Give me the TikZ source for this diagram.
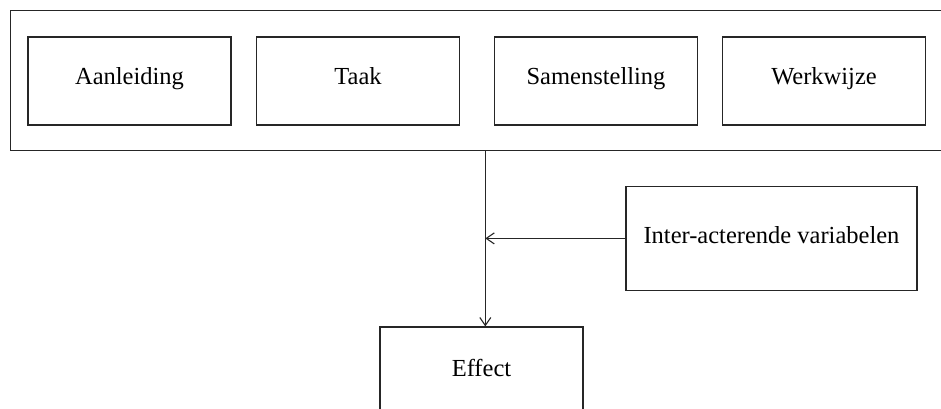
\documentclass[tikz,border=0pt]{standalone}
\usepackage{fontspec}
\setmainfont{Liberation Serif}
\usetikzlibrary{arrows.meta}
\begin{document}
\begin{tikzpicture}[x=1pt,y=-1pt,
    every node/.style={font=\fontsize{24.5}{28}\selectfont},
    box/.style={draw=black!85, line width=1.1pt, minimum width=203pt, minimum height=88pt,
      inner sep=0pt, text height=16pt, text depth=8pt},
    link/.style={draw=black!85, line width=1.1pt, -{Straight Barb[length=8pt,width=11pt,line width=1.1pt]}}]
  \useasboundingbox (0,0) rectangle (941,409);
  \clip (0,0) rectangle (941,409);
  % enclosing frame (runs past the right edge)
  \node[draw=black!85, line width=1.1pt, minimum width=939.5pt, minimum height=140.5pt, inner sep=0pt] (frame) at (480.25,80.4) {};
  % the four factors
  \node[box] (aanleiding) at (129.5,81) {Aanleiding};
  \node[box] (taak) at (358,81) {Taak};
  \node[box] (samenstelling) at (596,81) {Samenstelling};
  \node[box] (werkwijze) at (824,81) {Werkwijze};
  % interacting variables and outcome
  \node[box, minimum width=291pt, minimum height=104.5pt, text depth=6pt] (inter) at (771.5,238.4) {Inter-acterende variabelen};
  \node[box, text depth=6pt] (effect) at (481.5,371) {Effect};
  % connectors
  \coordinate (split) at (485.3,238.4);
  \draw[link] (split |- frame.south) -- (split |- effect.north);
  \draw[link] (inter.west) -- (split);
\end{tikzpicture}
\end{document}
